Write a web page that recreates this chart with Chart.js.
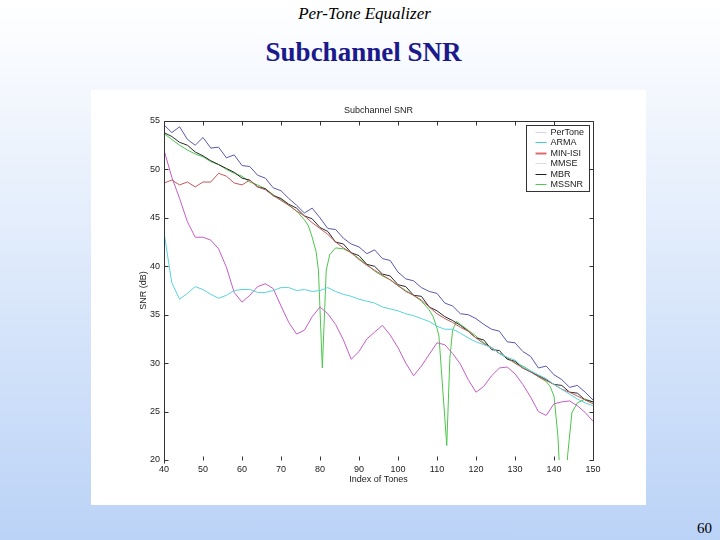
<!DOCTYPE html>
<html>
<head>
<meta charset="utf-8">
<script src="https://cdn.jsdelivr.net/npm/chart.js@4.4.1/dist/chart.umd.min.js"></script>
<style>
  html, body { margin: 0; padding: 0; }
  body {
    width: 720px; height: 540px; position: relative; overflow: hidden;
    background: linear-gradient(to bottom, #ffffff 0%, #bbd3f7 100%);
  }
  .kicker {
    position: absolute; left: 0; top: 5px; width: 720px; padding-left: 9px; box-sizing: border-box;
    text-align: center; font: italic 17px/17px "Liberation Serif", serif; color: #000;
  }
  .headline {
    position: absolute; left: 0; top: 39px; width: 720px; padding-left: 7px; box-sizing: border-box;
    text-align: center; font: bold 27px/27px "Liberation Serif", serif; color: #1a1a8c;
  }
  .pagenum {
    position: absolute; right: 8px; top: 521px;
    font: 15px/15px "Liberation Serif", serif; color: #000;
  }
  .figure {
    position: absolute; left: 91px; top: 90px; width: 555px; height: 415px; background: #fff;
  }
</style>
</head>
<body>
<div class="kicker">Per-Tone Equalizer</div>
<div class="headline">Subchannel SNR</div>
<div class="figure"><canvas id="snr-chart" width="555" height="415"></canvas></div>
<div class="pagenum">60</div>
<script>
// ── Data ─────────────────────────────────────────────────────────────────
const xTicks = [40, 50, 60, 70, 80, 90, 100, 110, 120, 130, 140, 150];
const yTicks = [20, 25, 30, 35, 40, 45, 50, 55];

const tones = [
  40, 42, 44, 46, 48, 50, 52, 54,
  56, 58, 60, 62, 64, 66, 68, 70,
  72, 74, 76, 78, 80, 82, 84, 86,
  88, 90, 92, 94, 96, 98, 100, 102,
  104, 106, 108, 110, 112, 114, 116, 118,
  120, 122, 124, 126, 128, 130, 132, 134,
  136, 138, 140, 142, 144, 146, 148, 150
];

const perTone = [
  54.6, 53.8, 54.4, 53.1, 52.5, 53.3, 52.2, 52.3,
  51.2, 51.5, 50.4, 50.3, 49.4, 49.1, 48.1, 47.8,
  47.0, 46.3, 45.5, 46.0, 45.0, 43.9, 43.8, 42.9,
  42.3, 42.0, 41.3, 41.7, 40.8, 40.6, 39.4, 38.7,
  38.5, 37.8, 37.4, 37.2, 36.2, 35.9, 35.1, 35.0,
  34.6, 34.0, 33.5, 33.3, 32.2, 32.1, 31.2, 30.7,
  29.5, 29.7, 28.8, 28.3, 27.5, 27.7, 27.0, 26.2
];

const arma = [
  43.5, 38.3, 36.6, 37.2, 37.9, 37.6, 37.1, 36.7,
  37.0, 37.5, 37.6, 37.6, 37.3, 37.3, 37.5, 37.8,
  37.8, 37.5, 37.6, 37.4, 37.5, 37.8, 37.4, 37.1,
  36.9, 36.6, 36.4, 36.2, 35.8, 35.6, 35.4, 35.1,
  34.9, 34.6, 34.3, 33.8, 33.5, 33.5, 33.1, 32.6,
  32.2, 31.9, 31.6, 31.0, 30.6, 30.3, 29.6, 29.2,
  28.8, 28.4, 27.8, 27.3, 26.8, 26.3, 25.9, 25.6
];

const minIsi = [
  48.6, 48.9, 48.4, 48.7, 48.2, 48.7, 48.7, 49.6,
  49.3, 48.6, 48.4, 48.9, 48.2, 47.9, 47.3, 46.8,
  46.3, 45.7, 45.2, 44.5, 43.9, 43.3, 42.5, 41.9,
  41.4, 40.7, 40.1, 39.6, 39.1, 38.6, 38.0, 37.4,
  37.0, 36.5, 35.8, 35.1, 34.6, 34.2, 33.7, 33.3,
  32.6, 32.0, 31.6, 31.0, 30.6, 30.0, 29.5, 29.1,
  28.6, 28.2, 27.8, 27.3, 27.0, 26.6, 26.2, 25.8
];

const mmse = [
  52.0, 49.2, 47.0, 44.6, 43.0, 43.0, 42.7, 41.8,
  39.9, 37.3, 36.3, 37.0, 37.9, 38.2, 37.7, 35.9,
  34.2, 33.0, 33.4, 34.8, 35.8, 35.1, 34.0, 32.4,
  30.4, 31.2, 32.5, 33.2, 33.9, 32.9, 31.6, 30.0,
  28.7, 29.7, 30.9, 32.1, 31.9, 31.0, 29.9, 28.3,
  27.0, 27.6, 28.7, 29.5, 29.6, 28.9, 27.8, 26.5,
  25.0, 24.6, 25.8, 26.0, 26.1, 25.6, 24.9, 24.0
];

const mbr = [
  53.8, 53.4, 52.8, 52.5, 51.8, 51.4, 50.9, 50.5,
  50.1, 49.7, 49.1, 48.9, 48.2, 48.0, 47.3, 47.0,
  46.4, 46.0, 45.2, 44.9, 44.0, 43.6, 42.5, 42.3,
  41.4, 41.1, 40.2, 40.0, 39.2, 39.0, 38.1, 37.9,
  37.0, 36.9, 35.8, 35.4, 34.8, 34.4, 33.9, 33.3,
  32.6, 32.4, 31.4, 31.3, 30.4, 30.2, 29.5, 29.1,
  28.7, 28.3, 27.8, 27.7, 27.0, 26.9, 26.2, 26.0
];

// MSSNR has narrow notches, so it is sampled more finely around them
const mssnrTones = [
  40, 42, 44, 46, 48, 50, 52, 54, 56, 58, 60, 62, 64, 66, 68, 70, 72, 74,
  76, 77, 78, 79, 79.6, 80.6, 81.6, 82.5, 84, 86, 88, 90, 92, 94, 96, 98,
  100, 102, 104, 106, 108, 109, 110, 110.5, 112.5, 113.3, 114, 115, 116, 118,
  120, 122, 124, 126, 128, 130, 132, 134, 136, 138, 139, 140, 141, 141.8,
  143, 143.5, 144.6, 146, 148, 150
];
const mssnr = [
  53.7, 53.1, 52.5, 52.0, 51.6, 51.3, 50.8, 50.5, 50.0, 49.6, 49.3, 48.7, 48.4, 48.0, 47.4, 46.9, 46.3, 45.7,
  44.8, 44.2, 43.0, 41.5, 39.6, 29.5, 39.6, 41.2, 41.9, 41.8, 41.4, 40.8, 40.2, 39.5, 39.0, 38.6,
  38.0, 37.5, 37.0, 36.4, 35.5, 34.8, 33.6, 32.8, 21.5, 30.5, 33.4, 34.3, 34.0, 33.4,
  32.8, 32.1, 31.6, 31.0, 30.5, 30.0, 29.7, 29.2, 28.6, 28.1, 27.6, 26.6, 22.5, 16.0,
  16.0, 20.5, 24.9, 25.9, 26.3, 26.0
];

// ── Chart ────────────────────────────────────────────────────────────────
const pts = (xs, ys) => xs.map((x, i) => ({ x, y: ys[i] }));
const sans = '"Liberation Sans", Arial, sans-serif';
const ink = '#222';

// MATLAB-style frame: inward ticks, box, plot title and boxed legend
const matlabFrame = {
    id: 'matlabFrame',
    afterDatasetsDraw(chart) {
        const { ctx, chartArea: a, scales: { x, y } } = chart;
        ctx.save();
        ctx.strokeStyle = '#333';
        ctx.lineWidth = 1;
        ctx.beginPath();
        const L = Math.round(a.left) + 0.5, R = Math.round(a.right) + 0.5;
        const T = Math.round(a.top) + 0.5, B = Math.round(a.bottom) + 0.5;
        // bottom edge is not visible in the original
        ctx.moveTo(L, B + 3); ctx.lineTo(L, T); ctx.lineTo(R, T); ctx.lineTo(R, B);
        xTicks.forEach(v => {
            const px = Math.round(x.getPixelForValue(v)) + 0.5;
            ctx.moveTo(px, T); ctx.lineTo(px, T + 4);
            ctx.moveTo(px, B); ctx.lineTo(px, B - 4);
        });
        yTicks.forEach(v => {
            const py = Math.round(y.getPixelForValue(v)) + 0.5;
            ctx.moveTo(L, py); ctx.lineTo(L + 4, py);
            ctx.moveTo(R, py); ctx.lineTo(R - 4, py);
        });
        ctx.stroke();

        // plot title
        ctx.fillStyle = ink;
        ctx.font = '9px ' + sans;
        ctx.textAlign = 'center';
        ctx.textBaseline = 'middle';
        ctx.fillText('Subchannel SNR', (a.left + a.right) / 2, a.top - 10);

        // legend box in the upper right corner
        const bw = 63, bh = 66;
        const bx = Math.round(a.right - 4 - bw) + 0.5, by = Math.round(a.top + 4) + 0.5;
        ctx.fillStyle = '#fff';
        ctx.fillRect(bx, by, bw, bh);
        ctx.strokeStyle = '#333';
        ctx.strokeRect(bx, by, bw, bh);
        ctx.textAlign = 'left';
        chart.data.datasets.forEach((ds, i) => {
            const ry = Math.round(by + 6.5 + i * 10.4) + 0.5;
            ctx.strokeStyle = ds.legendColor;
            ctx.lineWidth = ds.legendWidth;
            ctx.beginPath();
            ctx.moveTo(bx + 9, ry); ctx.lineTo(bx + 20, ry);
            ctx.stroke();
            ctx.fillStyle = ink;
            ctx.fillText(ds.label, bx + 24, ry);
        });
        ctx.restore();
    }
};

const line = (label, data, color, legendColor, legendWidth) => ({
    label, data, borderColor: color, borderWidth: 1, pointRadius: 0, tension: 0, fill: false,
    legendColor, legendWidth
});

new Chart(document.getElementById('snr-chart'), {
    type: 'line',
    data: {
        datasets: [
            line('PerTone', pts(tones, perTone), '#5858b0', '#d6d0ea', 1),
            line('ARMA', pts(tones, arma), '#58d4dc', '#44ccd4', 1),
            line('MIN-ISI', pts(tones, minIsi), '#c45858', '#e06a6a', 2),
            line('MMSE', pts(tones, mmse), '#c65cc6', '#e6d6e6', 1),
            line('MBR', pts(tones, mbr), '#2a2a2a', '#1e1e1e', 1),
            line('MSSNR', pts(mssnrTones, mssnr), '#4cc64c', '#4cc84c', 1),
        ]
    },
    options: {
        responsive: false, animation: false, devicePixelRatio: 1,
        layout: { padding: { left: 0, top: 31, right: 53, bottom: 0 } },
        plugins: { legend: { display: false }, tooltip: { enabled: false } },
        scales: {
            x: {
                type: 'linear', min: 40, max: 150,
                border: { display: false },
                grid: { display: false, drawTicks: false },
                afterBuildTicks: s => { s.ticks = xTicks.map(v => ({ value: v })); },
                afterFit: s => { s.height = 45; },
                ticks: { color: ink, font: { family: sans, size: 9 }, padding: 4, maxRotation: 0, autoSkip: false },
                title: { display: true, text: 'Index of Tones', color: ink, font: { family: sans, size: 9 }, padding: { top: 0, bottom: 20 } }
            },
            y: {
                type: 'linear', min: 20, max: 55,
                border: { display: false },
                grid: { display: false, drawTicks: false },
                afterBuildTicks: s => { s.ticks = yTicks.map(v => ({ value: v })); },
                afterFit: s => { s.width = 73; },
                ticks: { color: ink, font: { family: sans, size: 9 }, padding: 4, autoSkip: false },
                title: { display: true, text: 'SNR (dB)', color: ink, font: { family: sans, size: 9 }, padding: { top: 47, bottom: 0 } }
            }
        }
    },
    plugins: [matlabFrame]
});
</script>
</body>
</html>
